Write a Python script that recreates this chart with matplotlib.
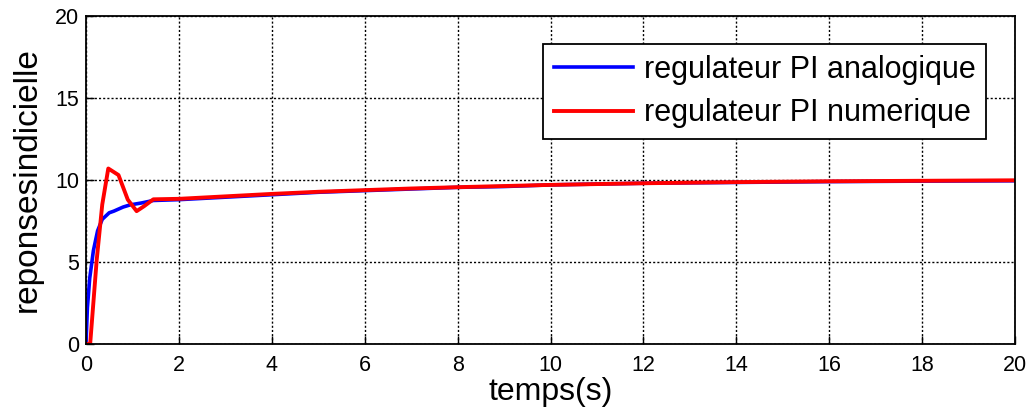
import numpy as np
import matplotlib
matplotlib.use('Agg')
import matplotlib.pyplot as plt

plt.rcParams['font.family'] = ['Liberation Sans', 'DejaVu Sans']

# blue: analogue PI step response
t_ana = [0, 0.03, 0.08, 0.16, 0.25, 0.35, 0.5, 0.6, 0.8, 0.95, 1.2, 1.45, 2, 3, 4, 5, 6, 7, 8, 9, 10, 12, 14, 16, 18, 20]
y_ana = [0, 2.2, 4.0, 5.7, 6.9, 7.6, 8.0, 8.1, 8.35, 8.48, 8.6, 8.75, 8.8, 8.95, 9.1, 9.25, 9.35, 9.45, 9.55, 9.6, 9.7, 9.8, 9.85, 9.9, 9.93, 9.95]

# red: numeric PI step response
t_num = [0, 0.09, 0.23, 0.35, 0.48, 0.7, 0.9, 1.09, 1.25, 1.45, 2, 3, 4, 5, 6, 7, 8, 9, 10, 12, 14, 16, 18, 20]
y_num = [0, 0, 5.1, 8.5, 10.7, 10.3, 8.8, 8.1, 8.4, 8.82, 8.85, 9.0, 9.15, 9.28, 9.38, 9.48, 9.56, 9.63, 9.7, 9.8, 9.87, 9.92, 9.95, 9.98]

fig = plt.figure(figsize=(10.31, 4.2), dpi=100)
ax = fig.add_axes([0.0834, 0.181, 0.9011, 0.781])
ax.plot(t_ana, y_ana, color='#0000ff', lw=2.6, label='regulateur PI analogique')
ax.plot(t_num, y_num, color='#ff0000', lw=2.8, label='regulateur PI numerique')
ax.set_xlim(0, 20)
ax.set_ylim(0, 20)
ax.set_xticks(np.arange(0, 21, 2))
ax.set_yticks(np.arange(0, 21, 5))
ax.grid(True, color='black', linestyle=(0, (1.5, 1.5)), linewidth=1.0)
ax.tick_params(labelsize=15.5, direction='in', length=6, width=1)
ax.tick_params(axis='x', pad=8)
ax.tick_params(axis='y', pad=5)
for s in ax.spines.values():
    s.set_linewidth(1.3)
ax.set_xlabel('temps(s)', fontsize=23, labelpad=1)
ax.set_ylabel('reponsesindicielle', fontsize=24, labelpad=9)
leg = ax.legend(loc='upper right', bbox_to_anchor=(0.969, 0.915), borderaxespad=0,
                fontsize=22, fancybox=False, framealpha=1, edgecolor='black',
                handlelength=2.6, borderpad=0.35, labelspacing=0.45, handletextpad=0.35)
leg.get_frame().set_linewidth(1.3)
fig.savefig('out.png', dpi=100)
